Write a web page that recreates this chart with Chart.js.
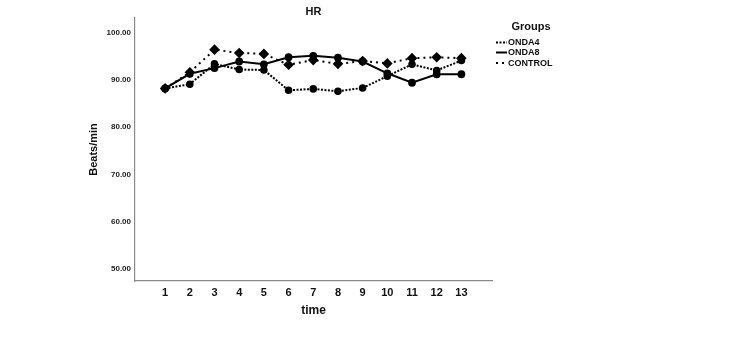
<!DOCTYPE html>
<html>
<head>
<meta charset="utf-8">
<script src="https://cdn.jsdelivr.net/npm/chart.js@4.4.0/dist/chart.umd.min.js"></script>
<style>
  html, body { margin: 0; padding: 0; background: #fff; }
  #wrap { width: 750px; height: 351px; }
</style>
</head>
<body>
<div id="wrap"><canvas id="hrChart" width="750" height="351"></canvas></div>
<script>
// chart data
const timeLabels = [1, 2, 3, 4, 5, 6, 7, 8, 9, 10, 11, 12, 13];
const onda4 = [88.2, 89.1, 93.4, 92.2, 92.1, 87.8, 88.1, 87.6, 88.3, 90.8, 93.3, 92.0, 94.1];
const onda8 = [88.2, 91.3, 92.5, 93.9, 93.3, 94.8, 95.1, 94.7, 93.9, 91.4, 89.4, 91.2, 91.2];
const control = [88.2, 91.6, 96.4, 95.7, 95.5, 93.2, 94.2, 93.4, 94.0, 93.5, 94.6, 94.8, 94.6];
const yTicks = [50, 60, 70, 80, 90, 100];

const toPoints = arr => arr.map((v, i) => ({ x: timeLabels[i], y: v }));

// title, axis titles and legend drawn by hand so they sit where the reference has them
const decorations = {
    id: 'decorations',
    afterDraw(chart) {
        const ctx = chart.ctx;
        const area = chart.chartArea;
        const midX = (area.left + area.right) / 2;
        ctx.save();
        ctx.fillStyle = '#111';
        ctx.textAlign = 'center';
        ctx.textBaseline = 'middle';

        ctx.font = 'bold 11px "Liberation Sans", Arial, sans-serif';
        ctx.fillText('HR', midX, 12);

        ctx.font = 'bold 12px "Liberation Sans", Arial, sans-serif';
        ctx.fillText('time', midX, 311);

        ctx.save();
        ctx.translate(94, (area.top + area.bottom) / 2);
        ctx.rotate(-Math.PI / 2);
        ctx.font = 'bold 11px "Liberation Sans", Arial, sans-serif';
        ctx.fillText('Beats/min', 0, 0);
        ctx.restore();

        // legend
        ctx.font = 'bold 11px "Liberation Sans", Arial, sans-serif';
        ctx.fillText('Groups', 531, 27);
        ctx.textAlign = 'left';
        ctx.font = 'bold 9px "Liberation Sans", Arial, sans-serif';
        const rows = [42.5, 52.5, 63];
        chart.data.datasets.forEach((ds, i) => {
            const y = rows[i];
            ctx.strokeStyle = '#000';
            ctx.lineWidth = 2;
            ctx.setLineDash(ds.borderDash || []);
            ctx.beginPath();
            ctx.moveTo(496, y);
            ctx.lineTo(507, y);
            ctx.stroke();
            ctx.setLineDash([]);
            ctx.fillText(ds.label, 508, y + 0.5);
        });
        ctx.restore();
    }
};

const hrChart = new Chart(document.getElementById('hrChart'), {
    type: 'line',
    data: {
        datasets: [{
            label: 'ONDA4',
            data: toPoints(onda4),
            borderColor: '#000',
            backgroundColor: '#000',
            borderWidth: 2,
            borderDash: [2, 1.5],
            pointStyle: 'circle',
            pointRadius: 2.8,
            tension: 0
        }, {
            label: 'ONDA8',
            data: toPoints(onda8),
            borderColor: '#000',
            backgroundColor: '#000',
            borderWidth: 2,
            pointStyle: 'circle',
            pointRadius: 2.9,
            tension: 0
        }, {
            label: 'CONTROL',
            data: toPoints(control),
            borderColor: '#000',
            backgroundColor: '#000',
            borderWidth: 2,
            borderDash: [2, 4],
            pointStyle: 'rectRot',
            pointRadius: 3.9,
            tension: 0
        }]
    },
    options: {
        responsive: false,
        animation: false,
        layout: { padding: { left: 0, right: 258, top: 18, bottom: 0 } },
        plugins: {
            legend: { display: false },
            title: { display: false },
            tooltip: { enabled: false }
        },
        scales: {
            x: {
                type: 'linear',
                min: -0.22,
                max: 14.24,
                grid: { display: false, drawTicks: false },
                border: { color: '#8a8a8a', width: 1.2 },
                afterBuildTicks: scale => { scale.ticks = timeLabels.map(v => ({ value: v })); },
                afterFit: scale => { scale.height = 70; },
                ticks: {
                    padding: 5,
                    color: '#111',
                    maxRotation: 0,
                    autoSkip: false,
                    font: { family: '"Liberation Sans", Arial, sans-serif', size: 11, weight: 'bold' }
                }
            },
            y: {
                min: 47.46,
                max: 103.1,
                grid: { display: false, drawTicks: false },
                border: { color: '#8a8a8a', width: 1.2 },
                afterBuildTicks: scale => { scale.ticks = yTicks.map(v => ({ value: v })); },
                afterFit: scale => { scale.width = 135; },
                ticks: {
                    padding: 4,
                    color: '#222',
                    callback: v => v.toFixed(2),
                    font: { family: '"Liberation Sans", Arial, sans-serif', size: 8, weight: 'bold' }
                }
            }
        }
    },
    plugins: [decorations]
});
</script>
</body>
</html>
